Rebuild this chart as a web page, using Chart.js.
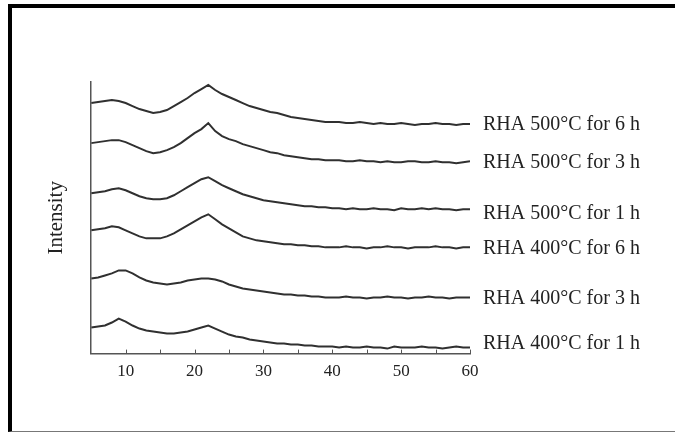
<!DOCTYPE html>
<html lang="en">
<head>
  <meta charset="UTF-8">
  <title>RHA XRD</title>
  <script src="https://cdn.jsdelivr.net/npm/chart.js"></script>
  <style>
    body { margin: 0; background: #fff; }
    .frame {
      position: absolute;
      left: 8px; top: 4px; width: 667px; height: 428px;
      border-top: 4px solid #000;
      border-left: 4px solid #000;
      border-bottom: 1px solid #777;
      box-sizing: border-box;
    }
    #xrd { position: absolute; left: 0; top: 0; }
  </style>
</head>
<body>
<div class="frame"></div>
<canvas id="xrd" width="675" height="434"></canvas>

<script>
  // 2-theta positions (degrees)
  var twoTheta = [5,6,7,8,9,10,11,12,13,14,15,16,17,18,19,20,21,22,23,24,25,26,27,28,29,30,
                  31,32,33,34,35,36,37,38,39,40,41,42,43,44,45,46,47,48,49,50,51,52,53,54,55,56,57,58,59,60];

  // intensities (arbitrary units, stacked with offsets as in the figure)
  var rha500_6h = [250,251,252,253,252,250,247,244,242,240,241,243,247,251,255,260,264,268,263,259,256,253,250,247,245,243,
                   241,240,238,236,235,234,233,232,231,231,231,230,230,231,230,229,230,229,229,230,229,228,229,229,230,229,229,228,229,229];
  var rha500_3h = [210,211,212,213,213,211,208,205,202,200,201,203,206,210,215,220,224,230,222,217,214,212,209,207,205,203,
                   201,200,198,197,196,195,194,194,193,193,193,192,192,193,192,192,191,192,191,191,192,192,191,191,192,191,191,190,191,192];
  var rha500_1h = [160,161,162,164,165,163,160,157,155,154,154,155,158,162,166,170,174,176,172,168,165,162,159,157,155,153,
                   152,151,150,149,148,147,147,146,146,145,145,144,145,144,144,145,144,144,143,145,144,144,145,144,145,144,144,143,144,144];
  var rha400_6h = [123,124,125,127,126,123,120,117,115,115,115,117,120,124,128,132,136,139,134,129,125,121,117,115,113,112,
                   111,110,109,109,108,108,107,107,106,106,106,107,106,106,105,106,106,107,106,106,105,106,106,106,107,106,106,105,106,106];
  var rha400_3h = [75,76,78,80,83,83,80,76,73,71,70,69,70,71,73,74,75,75,74,72,69,67,65,64,63,62,
                   61,60,59,59,58,58,57,57,56,56,56,57,56,56,55,56,56,57,56,56,55,56,56,57,56,56,55,56,56,56];
  var rha400_1h = [26,27,28,31,35,32,28,25,23,22,21,20,20,21,22,24,26,28,25,22,19,17,16,14,13,12,
                   11,10,10,9,9,8,8,7,7,7,6,7,6,6,7,6,6,5,7,6,6,6,7,6,6,5,6,7,6,6];

  var seriesLabels = ['RHA 500°C for 6 h', 'RHA 500°C for 3 h', 'RHA 500°C for 1 h',
                      'RHA 400°C for 6 h', 'RHA 400°C for 3 h', 'RHA 400°C for 1 h'];
  var seriesData = [rha500_6h, rha500_3h, rha500_1h, rha400_6h, rha400_3h, rha400_1h];
  var xTicks = [10, 20, 30, 40, 50, 60];
  var xMinorTicks = [15, 25, 35, 45, 55];

  // label nudges (px) relative to the end of each curve
  var labelNudge = [1, 2, 4, 1, 1, -4];

  var serif = "'Liberation Serif', 'DejaVu Serif', serif";

  // curve names written to the right of each trace, and inward tick marks
  var sideLabels = {
    id: 'sideLabels',
    afterDatasetsDraw: function(chart) {
      var ctx = chart.ctx;
      var xs = chart.scales.x;
      var area = chart.chartArea;
      ctx.save();
      ctx.strokeStyle = '#555';
      ctx.lineWidth = 1;
      xTicks.concat(xMinorTicks).forEach(function(v) {
        var px = Math.round(xs.getPixelForValue(v)) + 0.5;
        ctx.beginPath();
        ctx.moveTo(px, area.bottom);
        ctx.lineTo(px, area.bottom - 4);
        ctx.stroke();
      });
      ctx.fillStyle = '#222';
      ctx.font = '20px ' + serif;
      ctx.textBaseline = 'middle';
      chart.data.datasets.forEach(function(ds, i) {
        var meta = chart.getDatasetMeta(i);
        var last = meta.data[meta.data.length - 1];
        ctx.fillText(ds.label, area.right + 13, last.y + labelNudge[i]);
      });
      ctx.restore();
    }
  };

  var ctx = document.getElementById('xrd').getContext('2d');
  var chart = new Chart(ctx, {
    type: 'line',
    data: {
      datasets: seriesData.map(function(vals, i) {
        return {
          label: seriesLabels[i],
          data: twoTheta.map(function(t, k) { return { x: t, y: vals[k] }; }),
          borderColor: '#303030',
          borderWidth: 2,
          pointRadius: 0,
          tension: 0
        };
      })
    },
    options: {
      responsive: false,
      animation: false,
      layout: { padding: { left: 44, right: 205, top: 82, bottom: 44 } },
      plugins: { legend: { display: false }, tooltip: { enabled: false } },
      scales: {
        x: {
          type: 'linear',
          min: 5,
          max: 60,
          afterBuildTicks: function(scale) {
            scale.ticks = xTicks.map(function(v) { return { value: v }; });
          },
          grid: { display: false, drawTicks: false },
          border: { display: true, color: '#555', width: 1.5 },
          ticks: { color: '#222', font: { family: serif, size: 17 }, padding: 8, maxRotation: 0 }
        },
        y: {
          min: 0,
          max: 271,
          grid: { display: false, drawTicks: false },
          border: { display: true, color: '#555', width: 1.5 },
          ticks: { display: false },
          title: { display: true, text: 'Intensity', color: '#222', font: { family: serif, size: 21 }, padding: { top: 0, bottom: 22 } }
        }
      }
    },
    plugins: [sideLabels]
  });
</script>
</body>
</html>
